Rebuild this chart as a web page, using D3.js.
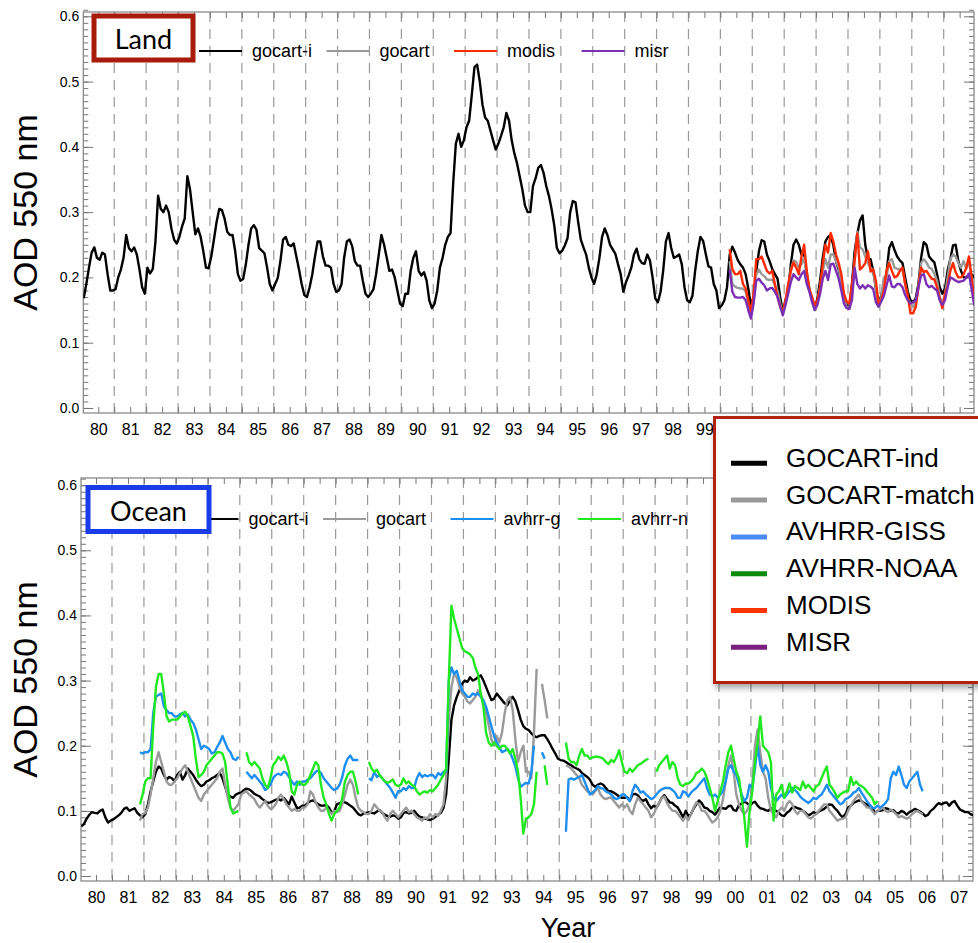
<!DOCTYPE html>
<html>
<head>
<meta charset="utf-8">
<script src="https://cdn.jsdelivr.net/npm/d3@7"></script>
<style>
body { margin: 0; background: #fff; }
svg text { font-family: "Liberation Sans", Arial, sans-serif; fill: #000; }
.narrow { font-family: "Liberation Sans Narrow", "Arial Narrow", "Liberation Sans", sans-serif; }
</style>
</head>
<body>
<svg id="chart" width="978" height="943"></svg>
<script>
// ---- data: monthly AOD at 550 nm, Jan 1980 .. Dec 2007 (null = no data) ----
var years = d3.range(1980, 2008);

// Land, GOCART independent run (1980-2007)
var landGocartInd = [
  .168,.19,.215,.238,.246,.23,.227,.238,.235,.205,.18,.18,
  .182,.20,.212,.23,.265,.245,.24,.246,.235,.212,.185,.175,
  .215,.206,.213,.255,.325,.305,.30,.31,.30,.275,.258,.252,
  .262,.278,.29,.355,.335,.30,.266,.275,.262,.24,.215,.214,
  .232,.258,.285,.305,.303,.29,.27,.265,.265,.24,.205,.195,
  .198,.22,.25,.275,.28,.273,.245,.241,.237,.215,.19,.18,
  .19,.199,.225,.258,.262,.25,.248,.252,.232,.212,.19,.173,
  .17,.185,.205,.232,.255,.255,.232,.218,.218,.215,.19,.178,
  .18,.19,.231,.255,.258,.248,.225,.218,.218,.195,.175,.17,
  .175,.182,.205,.235,.265,.25,.23,.21,.212,.20,.18,.16,
  .156,.175,.175,.21,.23,.24,.21,.203,.208,.195,.165,.153,
  .16,.18,.215,.23,.25,.262,.268,.345,.405,.42,.40,.41,
  .43,.44,.48,.522,.526,.50,.465,.445,.44,.425,.41,.396,
  .405,.417,.43,.452,.44,.41,.39,.375,.355,.335,.31,.30,
  .30,.34,.352,.368,.372,.36,.34,.325,.305,.28,.245,.237,
  .241,.249,.26,.30,.317,.315,.285,.258,.246,.235,.215,.20,
  .19,.205,.23,.262,.275,.265,.25,.243,.236,.22,.205,.178,
  .193,.203,.215,.235,.244,.228,.222,.221,.235,.226,.20,.168,
  .162,.178,.211,.255,.268,.245,.23,.232,.235,.22,.185,.165,
  .162,.172,.21,.24,.262,.256,.236,.217,.215,.19,.18,.153,
  .157,.165,.185,.235,.247,.238,.227,.22,.215,.205,.183,.157,
  .17,.21,.24,.257,.255,.235,.225,.213,.205,.198,.17,.146,
  .165,.18,.22,.25,.258,.25,.235,.235,.205,.18,.165,.152,
  .168,.195,.23,.255,.262,.265,.249,.225,.212,.19,.172,.158,
  .152,.19,.24,.267,.287,.295,.25,.228,.228,.21,.183,.16,
  .172,.19,.206,.245,.254,.242,.232,.226,.222,.2,.178,.165,
  .162,.168,.19,.23,.254,.25,.232,.227,.223,.205,.185,.175,
  .183,.211,.228,.249,.25,.225,.21,.2,.2,.203,.205,.2
];

// Land satellite-period series start April 2000
var landSatStart = 2000 * 12 + 3;
var landGocartMatch = [
  .225,.19,.186,.184,.183,.183,.178,.16,.14,
  .165,.205,.212,.205,.202,.197,.196,.197,.188,.18,.16,.145,
  .16,.18,.212,.226,.224,.215,.22,.23,.2,.18,.165,.15,
  .16,.185,.21,.228,.215,.235,.235,.225,.215,.19,.168,.155,
  .152,.18,.225,.27,.246,.243,.232,.222,.215,.21,.183,.157,
  .17,.2,.2,.225,.228,.215,.213,.213,.213,.19,.168,.16,
  .155,.16,.185,.222,.228,.223,.215,.213,.205,.195,.17,.16,
  .175,.2,.228,.235,.232,.222,.215,.225,.213,.225,.2,.175
];
var landModis = [
  .243,.213,.205,.205,.21,.19,.183,.165,.147,
  .175,.228,.228,.232,.221,.21,.206,.21,.19,.17,.155,.147,
  .165,.19,.21,.223,.215,.205,.232,.25,.21,.182,.17,.157,
  .165,.185,.22,.25,.238,.268,.255,.235,.222,.205,.175,.163,
  .16,.19,.226,.267,.212,.216,.222,.24,.209,.212,.195,.158,
  .165,.18,.211,.222,.21,.2,.202,.21,.215,.19,.172,.145,
  .145,.155,.185,.215,.208,.21,.204,.198,.197,.185,.168,.153,
  .175,.188,.21,.222,.208,.2,.2,.205,.215,.232,.2,.167
];
var landMisr = [
  .212,.178,.17,.169,.169,.17,.165,.15,.137,
  .16,.195,.198,.192,.188,.18,.183,.184,.178,.17,.155,.142,
  .158,.175,.193,.205,.2,.196,.205,.21,.19,.178,.162,.15,
  .158,.175,.198,.21,.196,.22,.221,.21,.198,.18,.16,.153,
  .152,.165,.215,.19,.183,.188,.183,.188,.186,.182,.162,.155,
  .163,.172,.188,.203,.186,.185,.19,.19,.185,.173,.165,.16,
  .162,.165,.185,.203,.205,.19,.185,.187,.183,.18,.165,.158,
  .165,.185,.2,.198,.195,.193,.194,.195,.2,.206,.182,.157
];

// Ocean, GOCART independent run (1980-2007)
var oceanGocartInd = [
  .076,.08,.088,.094,.098,.097,.096,.10,.102,.09,.082,.085,
  .087,.09,.093,.097,.103,.105,.10,.102,.104,.097,.093,.09,
  .095,.11,.13,.145,.16,.168,.165,.155,.148,.152,.15,.145,
  .155,.16,.148,.155,.165,.16,.155,.148,.142,.138,.14,.145,
  .147,.15,.152,.155,.158,.15,.137,.125,.122,.12,.125,.127,
  .128,.132,.134,.133,.13,.126,.124,.122,.118,.115,.112,.113,
  .115,.117,.118,.116,.12,.115,.11,.122,.113,.104,.105,.108,
  .108,.112,.115,.116,.113,.11,.108,.108,.109,.105,.097,.1,
  .11,.112,.114,.113,.111,.108,.105,.1,.095,.093,.096,.097,
  .098,.097,.096,.099,.101,.097,.094,.092,.091,.093,.092,.088,
  .09,.097,.098,.096,.097,.10,.095,.091,.09,.088,.087,.086,
  .088,.091,.094,.097,.104,.125,.18,.24,.262,.275,.285,.295,
  .30,.298,.305,.30,.302,.305,.308,.30,.29,.28,.27,.272,
  .28,.275,.27,.265,.262,.27,.275,.268,.255,.24,.23,.226,
  .224,.219,.215,.213,.215,.216,.216,.21,.203,.195,.188,.18,
  .178,.177,.175,.172,.17,.167,.165,.163,.158,.155,.152,.148,
  .14,.137,.14,.142,.14,.135,.13,.13,.128,.125,.122,.12,
  .12,.121,.115,.125,.126,.124,.118,.115,.118,.11,.104,.108,
  .105,.112,.12,.124,.118,.113,.112,.108,.105,.098,.09,.1,
  .092,.095,.104,.11,.116,.112,.105,.104,.1,.098,.094,.1,
  .105,.104,.103,.107,.108,.101,.1,.109,.111,.114,.112,.108,
  .112,.114,.108,.104,.103,.101,.1,.104,.102,.1,.097,.093,
  .092,.097,.1,.105,.106,.104,.103,.1,.097,.093,.095,.098,
  .096,.099,.101,.103,.107,.11,.109,.104,.1,.094,.09,.095,
  .105,.108,.112,.114,.116,.115,.112,.11,.107,.105,.097,.1,
  .1,.101,.104,.103,.1,.101,.097,.096,.1,.098,.094,.098,
  .1,.103,.101,.099,.096,.092,.094,.1,.103,.108,.112,.11,
  .112,.113,.108,.113,.115,.108,.102,.1,.098,.098,.095,.093
];

// Ocean satellite-period series start November 1981
var oceanSatStart = 1981 * 12 + 10;
var oceanGocartMatch = [
  .085,.095,
  .097,.105,.125,.15,.175,.19,.175,.16,.145,.14,.14,.145,
  .15,.158,.165,.17,.16,.15,.14,.13,.12,.115,.125,.13,
  .135,.14,.145,.15,.16,.165,.14,.12,.105,.1,.105,.11,
  .125,.128,.13,.125,.122,.118,.11,.105,.11,.115,.108,.103,
  .105,.11,.12,.125,.118,.11,.105,.1,.103,.1,.1,.105,
  .105,.11,.13,.125,.113,.105,.1,.1,.105,.1,.095,.1,
  .098,.1,.11,.125,.14,.148,.14,.12,.105,.1,.098,.095,
  .095,.1,.11,.105,.1,.098,.09,.085,.095,.1,.095,.09,
  .095,.1,.105,.098,.1,.095,.09,.088,.085,.09,.088,.095,
  .09,.095,.092,.1,.11,.15,.24,.29,.31,.305,.29,.28,
  .275,.268,.265,.27,.275,.285,.28,.265,.25,.232,.21,.2,
  .215,.205,.22,.25,.27,.275,.255,.21,.175,.19,.2,.16,
  .16,.15,.22,.318,null,.295,.27,.242,null,null,null,null,
  null,null,.17,.168,.165,.16,.155,.15,.14,.135,.13,.128,
  .125,.13,.135,.125,.12,.118,.12,.12,.115,.11,.105,.11,
  .105,.11,.1,.095,.11,.12,.115,.11,.105,.1,.09,.095,
  .105,.112,.12,.122,.112,.105,.1,.1,.096,.09,.085,.092,
  .086,.095,.105,.113,.11,.1,.1,.095,.088,.082,.085,.09,
  .1,.118,.145,.17,.185,.16,.125,.11,.1,.095,.1,.11,
  .14,.2,.225,.19,.16,.15,.12,.1,.095,.09,.1,.105,
  .1,.11,.115,.11,.1,.095,.1,.1,.095,.09,.088,.092,
  .095,.1,.105,.11,.11,.1,.095,.09,.085,.087,.088,.09,
  .1,.108,.115,.12,.125,.115,.11,.105,.105,.1,.095,.1,
  .102,.105,.1,.098,.102,.099,.095,.09,.092,.09,.088,.09,
  .095,.098,.1,.097,.095
];
var oceanAvhrrG = [
  .19,.188,
  .19,.19,.195,.25,.275,.278,.28,.26,.255,.25,.25,.245,
  .245,.248,.25,.245,.248,.24,.235,.225,.21,.195,.2,.198,
  .195,.188,.19,.198,.205,.215,.205,.195,.19,.18,.178,.183,
  null,null,.16,.155,.15,.155,.15,.145,.14,.132,.135,.14,
  .15,.155,.157,.155,.16,.158,.152,.145,.14,.145,.14,.145,
  .145,.148,.15,.155,.16,.162,.158,.15,.145,.14,.135,.132,
  .134,.14,.152,.17,.18,.185,.178,.178,.178,null,null,null,
  .15,.147,.16,.152,.155,.15,.145,.14,.135,.128,.12,.13,
  .13,.135,.132,.138,.135,.135,.15,.158,.152,.155,.153,.155,
  .155,.15,.158,.155,.16,.16,.3,.32,.31,.315,.3,.285,
  .28,.275,.275,.28,.278,.28,.275,.27,.26,.245,.23,.215,
  .205,.198,.19,.192,.195,.19,.18,.168,.15,.137,.14,.143,
  .142,.158,.2,null,null,.19,.18,null,null,null,null,null,
  null,null,.068,.148,.15,.148,.15,.152,.155,.145,.135,.125,
  .128,.132,.138,.135,.134,.13,.128,.125,.12,.118,.12,.125,
  .125,.12,.115,.13,.14,.135,.128,.13,.125,.122,.118,.12,
  .125,.13,.133,.135,.135,.135,.132,.128,.12,.12,.13,.128,
  .122,.128,.132,.135,.14,.145,.15,.135,.125,.122,.125,.12,
  .125,.13,.145,.165,.17,.16,.155,.14,.125,.115,.12,.14,
  .135,.165,.2,.17,.16,.17,.16,.135,.12,.115,.12,.125,
  .12,.125,.13,.135,.132,.128,.122,.118,.115,.112,.115,.12,
  .118,.122,.125,.132,.14,.13,.125,.12,.115,.11,.112,.118,
  .12,.123,.128,.13,.135,.128,.122,.115,.11,.105,.104,.108,
  .105,.108,.112,.118,.15,.16,.155,.168,.155,.14,.135,.145,
  .15,.155,.16,.14,.13
];
var oceanAvhrrN = [
  .11,.125,
  .145,.15,.15,.23,.29,.31,.31,.28,.245,.237,.24,.24,
  .24,.245,.25,.252,.245,.23,.215,.18,.152,.155,.16,.17,
  .175,.18,.185,.19,.19,.188,.175,.14,.105,.096,.098,.1,
  null,null,.19,.175,.17,.175,.17,.165,.15,.14,.135,.15,
  .17,.175,.183,.178,.185,.175,.16,.13,.125,.14,.145,.14,
  .14,.145,.155,.165,.175,.17,.14,.12,.11,.095,.085,.095,
  .1,.105,.12,.145,.155,.16,.16,.145,.125,null,null,null,
  .175,.165,.16,.163,.155,.15,.145,.143,.145,.148,.14,.138,
  .14,.15,.142,.145,.14,.138,.13,.125,.128,.13,.128,.132,
  .13,.135,.14,.148,.155,.165,.3,.415,.395,.38,.365,.35,
  .345,.343,.34,.335,.32,.31,.28,.26,.22,.205,.2,.205,
  .2,.195,.2,.2,.195,.188,.195,.18,.16,.12,.065,.088,
  .09,.095,.11,.16,null,null,.17,.14,null,null,null,null,
  null,null,.205,.18,.175,.175,.17,.185,.195,.185,.185,.18,
  .182,.183,.183,.182,.18,.175,.172,.178,.175,.182,.193,.175,
  .16,.158,.165,.16,.165,.17,.172,.175,.178,.18,null,null,
  .16,.17,.175,.18,.185,.165,.175,.17,.15,.14,.138,.142,
  .142,.145,.15,.158,.16,.165,.16,.15,.135,.12,.1,.115,
  .13,.145,.17,.19,.2,.18,.16,.15,.12,.09,.045,.1,
  .13,.175,.205,.245,.2,.195,.19,.175,.085,.125,.13,.14,
  .12,.13,.142,.128,.138,.135,.132,.145,.135,.14,.135,.13,
  .138,.14,.15,.16,.168,.14,.135,.128,.12,.125,.128,.13,
  .13,.152,.14,.145,.14,.138,.135,.13,.125,.12,.11,.115
];

var yTicks = [0.0, 0.1, 0.2, 0.3, 0.4, 0.5, 0.6];
var legendNames = ["GOCART-ind", "GOCART-match", "AVHRR-GISS", "AVHRR-NOAA", "MODIS", "MISR"];
var legendColors = ["#000000", "#999999", "#4a8cf7", "#0b8a0b", "#ff3300", "#7b1f7f"];

// ---- helpers ----
function series(vals, startMonth) {
  return vals.map(function(v, i) {
    var k = startMonth + i;
    return { t: Math.floor(k / 12) + ((k % 12) + 0.5) / 12, v: v };
  });
}

var svg = d3.select("#chart");
var defs = svg.append("defs");
defs.append("filter").attr("id", "shadow").attr("x", "-10%").attr("y", "-10%").attr("width", "130%").attr("height", "130%")
  .append("feDropShadow").attr("dx", 2).attr("dy", 4).attr("stdDeviation", 3)
  .attr("flood-color", "#000").attr("flood-opacity", 0.35);

function drawPanel(p) {
  var x = d3.scaleLinear().domain([1980.03, 2007.95]).range([p.left, p.right]);
  var y = d3.scaleLinear().domain(p.yDomain).range([p.bottom, p.top]);
  var g = svg.append("g");

  defs.append("clipPath").attr("id", p.id + "-clip")
    .append("rect").attr("x", p.left).attr("y", p.top)
    .attr("width", p.right - p.left).attr("height", p.bottom - p.top);

  // dashed year boundaries
  g.selectAll(".grid").data(d3.range(1981, 2008)).enter().append("line")
    .attr("x1", function(d) { return x(d); }).attr("x2", function(d) { return x(d); })
    .attr("y1", p.top).attr("y2", p.bottom)
    .attr("stroke", "#9a9a9a").attr("stroke-width", 1.2).attr("stroke-dasharray", "10,7");

  // ticks, all pointing inward
  var halfYears = d3.range(1980.5, 2008, 0.5);
  var minorY = d3.range(0, 0.615, 0.01).map(function(v) { return Math.round(v * 100) / 100; });
  function styleAxis(sel) {
    sel.select(".domain").remove();
    sel.selectAll(".tick line").attr("stroke", "#777");
  }
  g.append("g").attr("transform", "translate(0," + p.bottom + ")")
    .call(d3.axisBottom(x).tickValues(halfYears).tickSize(-6).tickFormat(""))
    .call(styleAxis);
  g.append("g").attr("transform", "translate(0," + p.top + ")")
    .call(d3.axisTop(x).tickValues(halfYears).tickSize(-6).tickFormat(""))
    .call(styleAxis);
  g.append("g").attr("transform", "translate(" + p.left + ",0)")
    .call(d3.axisLeft(y).tickValues(minorY).tickSize(-5).tickFormat(""))
    .call(styleAxis);
  g.append("g").attr("transform", "translate(" + p.right + ",0)")
    .call(d3.axisRight(y).tickValues(minorY).tickSize(-5).tickFormat(""))
    .call(styleAxis);
  g.append("g").attr("transform", "translate(" + p.left + ",0)")
    .call(d3.axisLeft(y).tickValues(yTicks).tickSize(-10).tickPadding(4).tickFormat(d3.format(".1f")))
    .call(styleAxis)
    .selectAll("text").attr("font-size", 14);
  g.append("g").attr("transform", "translate(" + p.right + ",0)")
    .call(d3.axisRight(y).tickValues(yTicks).tickSize(-10).tickFormat(""))
    .call(styleAxis);

  // year labels at mid-year
  var labAxis = g.append("g").attr("transform", "translate(0," + p.bottom + ")")
    .call(d3.axisBottom(x).tickValues(years.map(function(d) { return d + 0.5; }))
      .tickSize(0).tickPadding(11)
      .tickFormat(function(d) { return d3.format("02d")(Math.floor(d) % 100); }));
  labAxis.select(".domain").remove();
  labAxis.selectAll("text").attr("class", "narrow").attr("font-size", 16);

  // frame
  g.append("rect").attr("x", p.left).attr("y", p.top)
    .attr("width", p.right - p.left).attr("height", p.bottom - p.top)
    .attr("fill", "none").attr("stroke", "#808080").attr("stroke-width", 1.2);

  // data lines
  var line = d3.line()
    .defined(function(d) { return d.v != null; })
    .x(function(d) { return x(d.t); })
    .y(function(d) { return y(d.v); });
  var lines = g.append("g").attr("clip-path", "url(#" + p.id + "-clip)");
  p.series.forEach(function(s) {
    lines.append("path").datum(s.data)
      .attr("d", line).attr("fill", "none")
      .attr("stroke", s.color).attr("stroke-width", 2.4)
      .attr("stroke-linejoin", "round");
  });

  // in-plot legend
  var leg = g.append("g");
  p.series.forEach(function(s, i) {
    var lx = p.legX + 127.5 * i;
    leg.append("line").attr("x1", Math.max(lx, p.legMin)).attr("x2", lx + 43)
      .attr("y1", p.legY).attr("y2", p.legY)
      .attr("stroke", s.color).attr("stroke-width", 2);
    leg.append("text").attr("class", "narrow").attr("x", lx + 53).attr("y", p.legY + 5.5)
      .attr("font-size", 18).text(s.name);
  });

  // panel title box
  g.append("rect").attr("x", p.box[0]).attr("y", p.box[1]).attr("width", p.box[2]).attr("height", p.box[3])
    .attr("fill", "#fff").attr("stroke", p.boxColor).attr("stroke-width", 5);
  g.append("text").attr("x", p.box[0] + p.box[2] / 2).attr("y", p.box[1] + p.box[3] - 11)
    .attr("text-anchor", "middle").style("font-family", "Lato, 'Open Sans', sans-serif")
    .attr("font-size", 27).text(p.title);

  // y label
  svg.append("text").attr("transform", "translate(37," + ((p.top + p.bottom) / 2) + ") rotate(-90)")
    .attr("text-anchor", "middle").attr("font-size", 34).text("AOD 550 nm");
}

drawPanel({
  id: "land", title: "Land", boxColor: "#a81b0b", box: [94, 16, 99, 44],
  left: 83.3, right: 974, top: 12, bottom: 413, yDomain: [-0.0077, 0.6066],
  legX: 199, legMin: 199, legY: 51,
  series: [
    { name: "gocart-i", color: "#000", data: series(landGocartInd, 1980 * 12) },
    { name: "gocart", color: "#9a9a9a", data: series(landGocartMatch, landSatStart) },
    { name: "modis", color: "#ff2a00", data: series(landModis, landSatStart) },
    { name: "misr", color: "#7b2fb5", data: series(landMisr, landSatStart) }
  ]
});

drawPanel({
  id: "ocean", title: "Ocean", boxColor: "#1a3be8", box: [88, 487.5, 121, 44],
  left: 81, right: 973, top: 478, bottom: 881, yDomain: [-0.0077, 0.611],
  legX: 195.5, legMin: 211, legY: 519,
  series: [
    { name: "gocart-i", color: "#000", data: series(oceanGocartInd, 1980 * 12) },
    { name: "gocart", color: "#9a9a9a", data: series(oceanGocartMatch, oceanSatStart) },
    { name: "avhrr-g", color: "#1e8ff0", data: series(oceanAvhrrG, oceanSatStart) },
    { name: "avhrr-n", color: "#22e822", data: series(oceanAvhrrN, oceanSatStart) }
  ]
});

svg.append("text").attr("x", 568).attr("y", 937).attr("text-anchor", "middle")
  .attr("font-size", 27).text("Year");

// overall legend box
var lg = svg.append("g");
lg.append("rect").attr("x", 714.5).attr("y", 417.5).attr("width", 290).attr("height", 265)
  .attr("fill", "#fff").attr("stroke", "#b3200e").attr("stroke-width", 3)
  .attr("filter", "url(#shadow)");
legendNames.forEach(function(name, i) {
  var ly = 463.3 + 36.8 * i;
  lg.append("line").attr("x1", 731).attr("x2", 767).attr("y1", ly).attr("y2", ly)
    .attr("stroke", legendColors[i]).attr("stroke-width", 5);
  lg.append("text").attr("x", 786).attr("y", ly + 3.5).attr("font-size", 26).text(name);
});
</script>
</body>
</html>
